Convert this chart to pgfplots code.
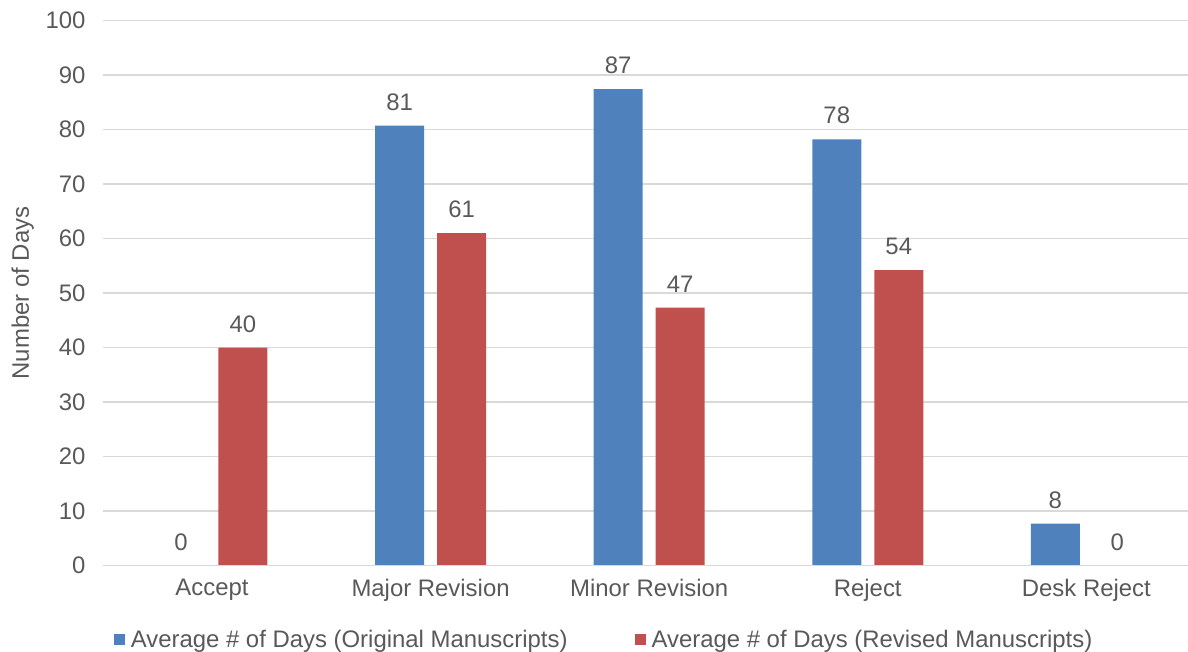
\documentclass[border=0pt]{standalone}
\usepackage{pgfplots}
\pgfplotsset{compat=1.18}
\usetikzlibrary{calc}
\usepackage{fontspec}
\setmainfont{Liberation Sans}
\definecolor{txt}{HTML}{595959}
\definecolor{grd}{HTML}{D9D9D9}
\definecolor{cblue}{HTML}{4F81BD}
\definecolor{cred}{HTML}{C0504D}
\begin{document}
\begin{tikzpicture}
\begin{axis}[
  name=ax,
  scale only axis,
  width=1085bp, height=545bp,
  xmin=-0.4986, xmax=4.465,
  ymin=0, ymax=100,
  ytick={0,10,...,100},
  xtick={0,1,2,3,4},
  xticklabels={Accept,Major Revision,Minor Revision,Reject,Desk Reject},
  ybar,
  bar width=49bp,
  axis line style={draw=none},
  axis x line*=bottom,
  tick style={draw=none},
  ymajorgrids,
  grid style={grd, line width=1.5bp},
  font=\fontsize{24}{28}\selectfont,
  /pgf/number format/assume math mode=true,
  ticklabel style={text=txt},
  yticklabel style={xshift=-14bp},
  xticklabel style={yshift=-6bp},
  ylabel={Number of Days},
  ylabel style={text=txt, yshift=5bp},
  nodes near coords={\pgfmathprintnumber[fixed,precision=0]{\pgfplotspointmeta}},
  nodes near coords style={text=txt, anchor=south, inner sep=0pt, yshift=15bp, font=\fontsize{24}{28}\selectfont},
  legend style={draw=none, at={(0.4618,-0.136)}, anchor=center, legend columns=2,
    font=\fontsize{24}{28}\selectfont, text=txt,
    /tikz/every even column/.append style={column sep=65bp}},
  legend image code/.code={\fill[#1] (0bp,-5.5bp) rectangle (11bp,5.5bp); \path (15bp,0);},
  clip=false,
]
\addplot[fill=cblue, draw=none, bar shift=-31bp] coordinates {(0,0) (1,80.7) (2,87.4) (3,78.2) (4,7.7)};
\addplot[fill=cred, draw=none, bar shift=31bp] coordinates {(0,40) (1,61) (2,47.3) (3,54.2) (4,0)};
\legend{Average \# of Days (Original Manuscripts),Average \# of Days (Revised Manuscripts)}
\draw[grd, line width=1.5bp] (rel axis cs:0,0) -- (rel axis cs:1,0);
\end{axis}
\pgfresetboundingbox
\path ($(ax.south west)+(-103bp,-85.5bp)$) rectangle ($(ax.north east)+(0bp,20.5bp)$);
\end{tikzpicture}
\end{document}
